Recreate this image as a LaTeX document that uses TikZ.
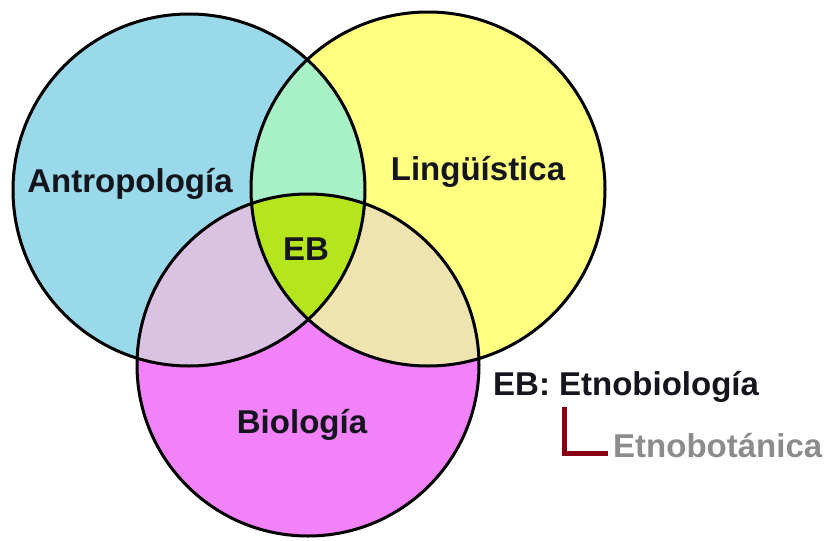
\documentclass[tikz,border=0pt]{standalone}
\usepackage{fontspec}
\setmainfont{Liberation Sans}
\usepackage{xcolor}
\usetikzlibrary{positioning,calc}
\definecolor{cAnt}{HTML}{99D9EA}
\definecolor{cLin}{HTML}{FFFF80}
\definecolor{cBio}{HTML}{F282F9}
\definecolor{cAL}{HTML}{A8F0C6}
\definecolor{cAB}{HTML}{D9C2E2}
\definecolor{cLB}{HTML}{EFE4B0}
\definecolor{cEB}{HTML}{B5E61D}
\definecolor{cInk}{HTML}{15151E}
\definecolor{cGray}{HTML}{8C8C8C}
\definecolor{cBrk}{HTML}{880015}
\tikzset{
  ring/.style ={draw=black,line width=3pt},
  lbl/.style  ={font=\fontsize{33}{38}\selectfont\bfseries,text=cInk,inner sep=0pt},
  sub/.style  ={lbl,text=cGray},
  brk/.style  ={draw=cBrk,line width=5pt},
}
\begin{document}
\begin{tikzpicture}[x=1pt,y=-1pt]
\useasboundingbox (0,0) rectangle (833,541);
% centres of the three sets
\coordinate (ant) at (189,190);
\coordinate (lin) at (428,189);
\coordinate (bio) at (308,365);
\def\rA{176}\def\rL{177}\def\rB{171}
% plain fills
\fill[cAnt] (ant) circle (\rA);
\fill[cLin] (lin) circle (\rL);
\fill[cBio] (bio) circle (\rB);
% overlaps
\begin{scope}
  \clip (ant) circle (\rA);
  \fill[cAL] (lin) circle (\rL);
  \fill[cAB] (bio) circle (\rB);
  \clip (lin) circle (\rL);
  \fill[cEB] (bio) circle (\rB);
\end{scope}
\begin{scope}
  \clip (lin) circle (\rL);
  \fill[cLB] (bio) circle (\rB);
  \clip (ant) circle (\rA);
  \fill[cEB] (bio) circle (\rB);
\end{scope}
% outlines
\draw[ring] (ant) circle (\rA);
\draw[ring] (lin) circle (\rL);
\draw[ring] (bio) circle (\rB);
% labels
\node[lbl,anchor=base] (tAnt) at (130,192) {Antropología};
\node[lbl,anchor=base] (tLin) at (478,180) {Lingüística};
\node[lbl,anchor=base] (tEB)  at (306,260) {EB};
\node[lbl,anchor=base] (tBio) at (302,433) {Biología};
% legend
\node[lbl,anchor=base west] (eb)  at (493,395) {EB: Etnobiología};
\node[sub,anchor=base west] (etb) at (613,457) {Etnobotánica};
\coordinate (brkTop) at (564.5,407);
\draw[brk] (brkTop) |- ([xshift=-5pt,yshift=3.5pt]etb.base west);
\end{tikzpicture}
\end{document}
